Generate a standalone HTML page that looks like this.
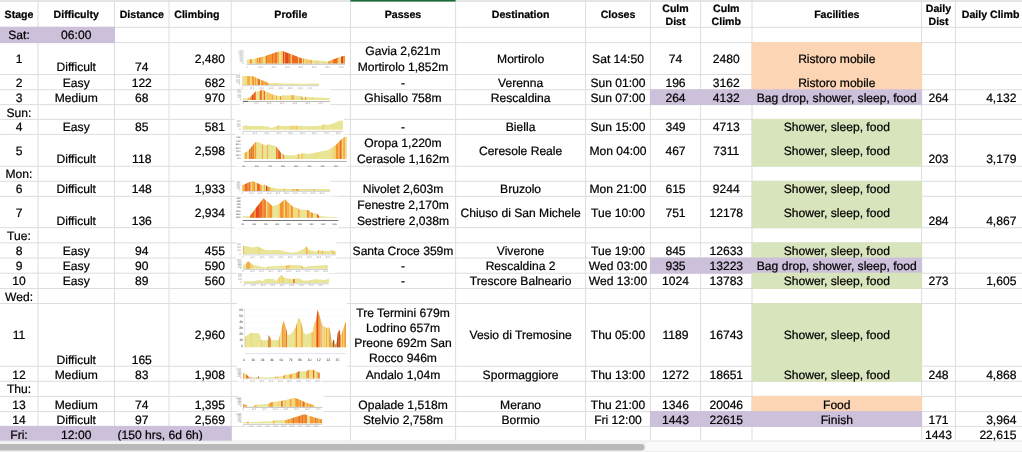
<!DOCTYPE html><html><head><meta charset="utf-8"><title>Stages</title>
<style>html,body{margin:0;padding:0;background:#fff;overflow:hidden}svg{display:block}text{font-family:"Liberation Sans",Arial,Helvetica,sans-serif;fill:#000;stroke:#000;stroke-width:0.22px;text-rendering:geometricPrecision}.h{font-weight:bold;font-size:10.6px}.c{font-size:12.1px}</style></head><body>
<svg width="1022" height="452" viewBox="0 0 1022 452">
<rect width="1022" height="452" fill="#fff"/>
<rect x="0" y="0" width="1022" height="1" fill="#e9e9e9"/>
<g fill="#dddddd">
<rect x="0" y="0.80" width="1022" height="1"/>
<rect x="0" y="26.80" width="1022" height="1"/>
<rect x="0" y="42.10" width="1022" height="1"/>
<rect x="0" y="74.00" width="1022" height="1"/>
<rect x="0" y="89.30" width="1022" height="1"/>
<rect x="0" y="104.10" width="1022" height="1"/>
<rect x="0" y="118.90" width="1022" height="1"/>
<rect x="0" y="133.90" width="1022" height="1"/>
<rect x="0" y="165.70" width="1022" height="1"/>
<rect x="0" y="180.80" width="1022" height="1"/>
<rect x="0" y="195.80" width="1022" height="1"/>
<rect x="0" y="227.20" width="1022" height="1"/>
<rect x="0" y="242.40" width="1022" height="1"/>
<rect x="0" y="257.50" width="1022" height="1"/>
<rect x="0" y="272.70" width="1022" height="1"/>
<rect x="0" y="288.00" width="1022" height="1"/>
<rect x="0" y="303.00" width="1022" height="1"/>
<rect x="0" y="365.70" width="1022" height="1"/>
<rect x="0" y="380.80" width="1022" height="1"/>
<rect x="0" y="395.90" width="1022" height="1"/>
<rect x="0" y="411.10" width="1022" height="1"/>
<rect x="0" y="425.90" width="1022" height="1"/>
<rect x="37.50" y="0" width="1" height="441.00"/>
<rect x="114.00" y="0" width="1" height="441.00"/>
<rect x="168.50" y="0" width="1" height="441.00"/>
<rect x="230.70" y="0" width="1" height="441.00"/>
<rect x="349.90" y="0" width="1" height="441.00"/>
<rect x="455.10" y="0" width="1" height="441.00"/>
<rect x="585.10" y="0" width="1" height="441.00"/>
<rect x="649.90" y="0" width="1" height="441.00"/>
<rect x="700.10" y="0" width="1" height="441.00"/>
<rect x="751.50" y="0" width="1" height="441.00"/>
<rect x="921.10" y="0" width="1" height="441.00"/>
<rect x="954.90" y="0" width="1" height="441.00"/>
</g>
<rect x="0" y="440.5" width="1022" height="1" fill="#efefef"/>
<rect x="0.00" y="26.80" width="115.00" height="16.30" fill="#ccc0da"/>
<rect x="751.50" y="42.10" width="170.60" height="32.90" fill="#fcd5b4"/>
<rect x="751.50" y="74.00" width="170.60" height="16.30" fill="#fcd5b4"/>
<rect x="649.90" y="89.30" width="272.20" height="15.80" fill="#ccc0da"/>
<rect x="751.50" y="118.90" width="170.60" height="16.00" fill="#d8e4bc"/>
<rect x="751.50" y="133.90" width="170.60" height="32.80" fill="#d8e4bc"/>
<rect x="751.50" y="180.80" width="170.60" height="16.00" fill="#d8e4bc"/>
<rect x="751.50" y="195.80" width="170.60" height="32.40" fill="#d8e4bc"/>
<rect x="751.50" y="242.40" width="170.60" height="16.10" fill="#d8e4bc"/>
<rect x="649.90" y="257.50" width="272.20" height="16.20" fill="#ccc0da"/>
<rect x="751.50" y="272.70" width="170.60" height="16.30" fill="#d8e4bc"/>
<rect x="751.50" y="303.00" width="170.60" height="63.70" fill="#d8e4bc"/>
<rect x="751.50" y="365.70" width="170.60" height="16.10" fill="#d8e4bc"/>
<rect x="751.50" y="395.90" width="170.60" height="16.20" fill="#fcd5b4"/>
<rect x="649.90" y="411.10" width="272.20" height="15.80" fill="#ccc0da"/>
<rect x="0.00" y="425.90" width="231.70" height="15.60" fill="#ccc0da"/>
<g id="p1">
<clipPath id="c1"><polygon points="246.79,59.79 249.92,59.41 254.93,58.79 265.57,56.03 275.59,52.52 281.86,51.02 283.73,51.52 293.13,55.03 301.89,58.41 305.15,58.66 309.91,59.91 315.67,60.41 323.19,61.04 327.95,61.79 331.95,60.04 338.22,57.53 343.35,55.91 344.98,55.78 344.98,63.42 246.79,63.42"/></clipPath>
<polygon points="246.79,59.79 249.92,59.41 254.93,58.79 265.57,56.03 275.59,52.52 281.86,51.02 283.73,51.52 293.13,55.03 301.89,58.41 305.15,58.66 309.91,59.91 315.67,60.41 323.19,61.04 327.95,61.79 331.95,60.04 338.22,57.53 343.35,55.91 344.98,55.78 344.98,63.42 246.79,63.42" fill="#e9e597"/>
<g clip-path="url(#c1)">
<rect x="249.79" y="50.02" width="2.13" height="14.40" fill="#f5932f"/>
<rect x="255.18" y="50.02" width="1.57" height="14.40" fill="#f6cb66"/>
<rect x="256.74" y="50.02" width="1.32" height="14.40" fill="#f5932f"/>
<rect x="258.06" y="50.02" width="1.06" height="14.40" fill="#f6cb66"/>
<rect x="259.12" y="50.02" width="0.81" height="14.40" fill="#ee6826"/>
<rect x="259.94" y="50.02" width="2.88" height="14.40" fill="#f5ad4a"/>
<rect x="262.82" y="50.02" width="2.94" height="14.40" fill="#f1dc84"/>
<rect x="265.76" y="50.02" width="1.32" height="14.40" fill="#ee6826"/>
<rect x="267.08" y="50.02" width="4.76" height="14.40" fill="#f5932f"/>
<rect x="271.84" y="50.02" width="1.13" height="14.40" fill="#ee6826"/>
<rect x="272.96" y="50.02" width="2.13" height="14.40" fill="#f5932f"/>
<rect x="275.09" y="50.02" width="1.82" height="14.40" fill="#ee6826"/>
<rect x="276.91" y="50.02" width="2.13" height="14.40" fill="#f5ad4a"/>
<rect x="279.04" y="50.02" width="2.13" height="14.40" fill="#e9e597"/>
<rect x="281.17" y="50.02" width="1.82" height="14.40" fill="#f6cb66"/>
<rect x="282.98" y="50.02" width="1.38" height="14.40" fill="#e5451f"/>
<rect x="284.36" y="50.02" width="0.75" height="14.40" fill="#f5932f"/>
<rect x="285.11" y="50.02" width="2.94" height="14.40" fill="#e5451f"/>
<rect x="288.05" y="50.02" width="2.69" height="14.40" fill="#ee6826"/>
<rect x="290.75" y="50.02" width="1.25" height="14.40" fill="#f6cb66"/>
<rect x="292.00" y="50.02" width="3.01" height="14.40" fill="#ee6826"/>
<rect x="295.01" y="50.02" width="3.01" height="14.40" fill="#ee6826"/>
<rect x="298.01" y="50.02" width="1.00" height="14.40" fill="#f6cb66"/>
<rect x="299.01" y="50.02" width="2.94" height="14.40" fill="#ee6826"/>
<rect x="303.02" y="50.02" width="1.06" height="14.40" fill="#f5932f"/>
<rect x="305.15" y="50.02" width="4.76" height="14.40" fill="#f6cb66"/>
<rect x="309.91" y="50.02" width="2.13" height="14.40" fill="#f5ad4a"/>
<rect x="315.80" y="50.02" width="1.00" height="14.40" fill="#f6cb66"/>
<rect x="317.93" y="50.02" width="0.75" height="14.40" fill="#f6cb66"/>
<rect x="322.94" y="50.02" width="2.88" height="14.40" fill="#f1dc84"/>
<rect x="327.95" y="50.02" width="2.13" height="14.40" fill="#f5932f"/>
<rect x="330.07" y="50.02" width="2.94" height="14.40" fill="#f5ad4a"/>
<rect x="333.02" y="50.02" width="3.95" height="14.40" fill="#ee6826"/>
<rect x="336.96" y="50.02" width="1.13" height="14.40" fill="#f5932f"/>
<rect x="338.09" y="50.02" width="1.57" height="14.40" fill="#f6cb66"/>
<rect x="340.97" y="50.02" width="2.38" height="14.40" fill="#e5451f"/>
<rect x="343.35" y="50.02" width="1.63" height="14.40" fill="#f5932f"/>
</g>
<rect x="246.79" y="63.77" width="98.19" height="0.80" fill="#aab0b8"/>
<g font-size="2.4" text-anchor="middle" style="fill:#9c9c9c;stroke:none">
<text x="246.79" y="67.92" style="fill:#9c9c9c;stroke:none">0</text>
<text x="260.30" y="67.92" style="fill:#9c9c9c;stroke:none">10.0</text>
<text x="273.80" y="67.92" style="fill:#9c9c9c;stroke:none">20.0</text>
<text x="287.31" y="67.92" style="fill:#9c9c9c;stroke:none">30.0</text>
<text x="300.82" y="67.92" style="fill:#9c9c9c;stroke:none">40.0</text>
<text x="314.33" y="67.92" style="fill:#9c9c9c;stroke:none">50.0</text>
<text x="327.84" y="67.92" style="fill:#9c9c9c;stroke:none">60.0</text>
<text x="341.35" y="67.92" style="fill:#9c9c9c;stroke:none">70.0</text>
</g>
<g font-size="2.4" text-anchor="end" style="fill:#9c9c9c;stroke:none">
<text x="243.47" y="64.03" style="fill:#9c9c9c;stroke:none">0</text>
<text x="243.47" y="61.95" style="fill:#9c9c9c;stroke:none">200</text>
<text x="243.47" y="59.86" style="fill:#9c9c9c;stroke:none">400</text>
<text x="243.47" y="57.77" style="fill:#9c9c9c;stroke:none">600</text>
<text x="243.47" y="55.68" style="fill:#9c9c9c;stroke:none">800</text>
<text x="243.47" y="53.60" style="fill:#9c9c9c;stroke:none">1000</text>
<text x="243.47" y="51.51" style="fill:#9c9c9c;stroke:none">1200</text>
</g>
</g>
<g id="p2">
<rect x="236.14" y="73.25" width="83.29" height="15.41" fill="#fff"/>
<clipPath id="c2"><polygon points="242.12,76.01 251.92,76.01 254.55,77.01 259.90,79.44 265.20,81.56 268.39,83.15 275.59,83.15 284.36,83.52 293.13,83.40 303.15,83.65 311.91,83.52 319.05,83.52 319.05,84.96 242.12,84.96"/></clipPath>
<polygon points="242.12,76.01 251.92,76.01 254.55,77.01 259.90,79.44 265.20,81.56 268.39,83.15 275.59,83.15 284.36,83.52 293.13,83.40 303.15,83.65 311.91,83.52 319.05,83.52 319.05,84.96 242.12,84.96" fill="#e9e597"/>
<g clip-path="url(#c2)">
<rect x="244.78" y="75.01" width="2.38" height="10.95" fill="#f1dc84"/>
<rect x="247.16" y="75.01" width="2.88" height="10.95" fill="#f5ad4a"/>
<rect x="250.04" y="75.01" width="2.13" height="10.95" fill="#f1dc84"/>
<rect x="252.17" y="75.01" width="1.88" height="10.95" fill="#f5932f"/>
<rect x="254.05" y="75.01" width="1.06" height="10.95" fill="#f6cb66"/>
<rect x="255.12" y="75.01" width="1.06" height="10.95" fill="#f5932f"/>
<rect x="256.18" y="75.01" width="1.59" height="10.95" fill="#f6cb66"/>
<rect x="257.77" y="75.01" width="2.13" height="10.95" fill="#ee6826"/>
<rect x="261.23" y="75.01" width="2.39" height="10.95" fill="#f5932f"/>
<rect x="263.62" y="75.01" width="2.12" height="10.95" fill="#f5ad4a"/>
<rect x="265.74" y="75.01" width="2.66" height="10.95" fill="#f5932f"/>
<rect x="273.09" y="75.01" width="4.01" height="10.95" fill="#f1dc84"/>
<rect x="291.87" y="75.01" width="1.25" height="10.95" fill="#f1dc84"/>
</g>
<rect x="242.03" y="85.43" width="77.03" height="0.70" fill="#bdbdbd"/>
<g font-size="2.4" text-anchor="middle" style="fill:#9c9c9c;stroke:none">
<text x="242.03" y="88.64" style="fill:#9c9c9c;stroke:none">0</text>
<text x="251.74" y="88.64" style="fill:#9c9c9c;stroke:none">10.0</text>
<text x="261.46" y="88.64" style="fill:#9c9c9c;stroke:none">20.0</text>
<text x="271.17" y="88.64" style="fill:#9c9c9c;stroke:none">30.0</text>
<text x="280.89" y="88.64" style="fill:#9c9c9c;stroke:none">40.0</text>
<text x="290.60" y="88.64" style="fill:#9c9c9c;stroke:none">50.0</text>
<text x="300.32" y="88.64" style="fill:#9c9c9c;stroke:none">60.0</text>
<text x="310.04" y="88.64" style="fill:#9c9c9c;stroke:none">70.0</text>
</g>
<g font-size="2.4" text-anchor="end" style="fill:#9c9c9c;stroke:none">
<text x="240.09" y="85.14" style="fill:#9c9c9c;stroke:none">0</text>
<text x="240.09" y="82.85" style="fill:#9c9c9c;stroke:none">200</text>
<text x="240.09" y="80.57" style="fill:#9c9c9c;stroke:none">400</text>
<text x="240.09" y="78.28" style="fill:#9c9c9c;stroke:none">600</text>
<text x="240.09" y="76.00" style="fill:#9c9c9c;stroke:none">800</text>
</g>
</g>
<g id="p3">
<rect x="239.27" y="89.41" width="91.43" height="15.41" fill="#fff"/>
<clipPath id="c3"><polygon points="243.03,98.30 247.79,98.30 250.22,97.15 255.53,91.58 259.24,91.21 262.43,89.61 264.55,91.04 271.96,94.23 275.17,95.55 280.48,95.98 283.11,95.55 289.31,95.46 293.29,95.13 301.52,96.36 303.11,97.93 305.24,96.89 318.51,97.42 329.95,98.30 329.95,100.05 243.03,100.05"/></clipPath>
<polygon points="243.03,98.30 247.79,98.30 250.22,97.15 255.53,91.58 259.24,91.21 262.43,89.61 264.55,91.04 271.96,94.23 275.17,95.55 280.48,95.98 283.11,95.55 289.31,95.46 293.29,95.13 301.52,96.36 303.11,97.93 305.24,96.89 318.51,97.42 329.95,98.30 329.95,100.05 243.03,100.05" fill="#e9e597"/>
<g clip-path="url(#c3)">
<rect x="247.83" y="88.61" width="1.33" height="12.45" fill="#f5ad4a"/>
<rect x="249.94" y="88.61" width="1.85" height="12.45" fill="#f5932f"/>
<rect x="251.80" y="88.61" width="1.34" height="12.45" fill="#e5451f"/>
<rect x="253.14" y="88.61" width="2.66" height="12.45" fill="#ee6826"/>
<rect x="259.77" y="88.61" width="2.12" height="12.45" fill="#ee6826"/>
<rect x="261.89" y="88.61" width="1.33" height="12.45" fill="#f1dc84"/>
<rect x="263.22" y="88.61" width="0.80" height="12.45" fill="#f5ad4a"/>
<rect x="264.02" y="88.61" width="1.05" height="12.45" fill="#ee6826"/>
<rect x="265.07" y="88.61" width="1.60" height="12.45" fill="#f1dc84"/>
<rect x="266.68" y="88.61" width="5.31" height="12.45" fill="#f6cb66"/>
<rect x="271.99" y="88.61" width="1.59" height="12.45" fill="#f5ad4a"/>
<rect x="273.58" y="88.61" width="2.39" height="12.45" fill="#f1dc84"/>
<rect x="275.97" y="88.61" width="1.06" height="12.45" fill="#f5ad4a"/>
<rect x="279.95" y="88.61" width="1.06" height="12.45" fill="#f5932f"/>
<rect x="281.02" y="88.61" width="4.05" height="12.45" fill="#f1dc84"/>
<rect x="287.18" y="88.61" width="1.57" height="12.45" fill="#f1dc84"/>
<rect x="290.37" y="88.61" width="1.59" height="12.45" fill="#f6cb66"/>
<rect x="291.96" y="88.61" width="1.85" height="12.45" fill="#f5ad4a"/>
<rect x="300.99" y="88.61" width="1.85" height="12.45" fill="#f5ad4a"/>
<rect x="304.98" y="88.61" width="1.05" height="12.45" fill="#f5932f"/>
<rect x="312.14" y="88.61" width="1.33" height="12.45" fill="#f1dc84"/>
</g>
<rect x="243.03" y="101.03" width="86.92" height="0.80" fill="#a9a9a9"/>
<rect x="243.03" y="100.88" width="5.01" height="1.1" fill="#666"/>
<g font-size="2.4" text-anchor="middle" style="fill:#9c9c9c;stroke:none">
<text x="243.28" y="104.30" style="fill:#9c9c9c;stroke:none">0</text>
<text x="256.18" y="104.30" style="fill:#9c9c9c;stroke:none">10.0</text>
<text x="269.08" y="104.30" style="fill:#9c9c9c;stroke:none">20.0</text>
<text x="281.98" y="104.30" style="fill:#9c9c9c;stroke:none">30.0</text>
<text x="294.88" y="104.30" style="fill:#9c9c9c;stroke:none">40.0</text>
<text x="307.78" y="104.30" style="fill:#9c9c9c;stroke:none">50.0</text>
<text x="320.68" y="104.30" style="fill:#9c9c9c;stroke:none">60.0</text>
</g>
<g font-size="2.4" text-anchor="end" style="fill:#9c9c9c;stroke:none">
<text x="241.34" y="100.17" style="fill:#9c9c9c;stroke:none">0</text>
<text x="241.34" y="97.88" style="fill:#9c9c9c;stroke:none">200</text>
<text x="241.34" y="95.60" style="fill:#9c9c9c;stroke:none">400</text>
<text x="241.34" y="93.31" style="fill:#9c9c9c;stroke:none">600</text>
<text x="241.34" y="91.02" style="fill:#9c9c9c;stroke:none">800</text>
</g>
</g>
<g id="p4">
<rect x="234.89" y="118.50" width="108.96" height="15.78" fill="#fff"/>
<clipPath id="c4"><polygon points="242.78,126.02 244.91,125.39 253.05,126.02 260.56,126.02 269.33,126.65 271.21,127.90 273.71,127.27 278.10,125.39 284.36,126.02 296.88,125.77 309.41,126.27 321.93,125.39 323.81,124.14 328.20,125.02 334.46,122.89 340.09,120.38 342.97,121.01 342.97,129.78 242.78,129.78"/></clipPath>
<polygon points="242.78,126.02 244.91,125.39 253.05,126.02 260.56,126.02 269.33,126.65 271.21,127.90 273.71,127.27 278.10,125.39 284.36,126.02 296.88,125.77 309.41,126.27 321.93,125.39 323.81,124.14 328.20,125.02 334.46,122.89 340.09,120.38 342.97,121.01 342.97,129.78 242.78,129.78" fill="#e9e597"/>
<g clip-path="url(#c4)">
<rect x="277.47" y="119.38" width="1.25" height="11.39" fill="#f6cb66"/>
<rect x="290.62" y="119.38" width="1.25" height="11.39" fill="#f6cb66"/>
<rect x="293.13" y="119.38" width="1.25" height="11.39" fill="#f6cb66"/>
<rect x="295.63" y="119.38" width="1.88" height="11.39" fill="#f6cb66"/>
<rect x="322.56" y="119.38" width="1.25" height="11.39" fill="#f6cb66"/>
</g>
<rect x="242.78" y="130.93" width="100.20" height="0.70" fill="#bdbdbd"/>
<g font-size="2.4" text-anchor="middle" style="fill:#9c9c9c;stroke:none">
<text x="242.78" y="134.40" style="fill:#9c9c9c;stroke:none">0</text>
<text x="254.71" y="134.40" style="fill:#9c9c9c;stroke:none">10.0</text>
<text x="266.64" y="134.40" style="fill:#9c9c9c;stroke:none">20.0</text>
<text x="278.57" y="134.40" style="fill:#9c9c9c;stroke:none">30.0</text>
<text x="290.50" y="134.40" style="fill:#9c9c9c;stroke:none">40.0</text>
<text x="302.43" y="134.40" style="fill:#9c9c9c;stroke:none">50.0</text>
<text x="314.36" y="134.40" style="fill:#9c9c9c;stroke:none">60.0</text>
<text x="326.29" y="134.40" style="fill:#9c9c9c;stroke:none">70.0</text>
<text x="338.22" y="134.40" style="fill:#9c9c9c;stroke:none">80.0</text>
</g>
<g font-size="2.4" text-anchor="end" style="fill:#9c9c9c;stroke:none">
<text x="240.71" y="130.01" style="fill:#9c9c9c;stroke:none">0</text>
<text x="240.71" y="127.30" style="fill:#9c9c9c;stroke:none">200</text>
<text x="240.71" y="124.59" style="fill:#9c9c9c;stroke:none">400</text>
<text x="240.71" y="121.87" style="fill:#9c9c9c;stroke:none">600</text>
</g>
</g>
<g id="p5">
<rect x="234.89" y="134.54" width="112.72" height="31.81" fill="#fff"/>
<clipPath id="c5"><polygon points="243.84,153.24 247.96,150.92 248.95,149.93 255.59,142.09 259.90,142.49 262.89,144.62 266.54,145.14 268.53,144.28 274.50,145.81 276.16,146.74 279.15,150.25 281.14,153.24 283.46,154.24 284.46,155.36 294.00,155.36 296.63,155.23 298.30,153.90 300.64,154.24 302.27,153.24 307.28,153.77 313.92,152.91 320.53,151.57 327.17,150.25 331.82,147.94 336.46,144.62 340.44,140.30 344.41,136.98 346.73,136.79 346.73,158.88 243.84,158.88"/></clipPath>
<polygon points="243.84,153.24 247.96,150.92 248.95,149.93 255.59,142.09 259.90,142.49 262.89,144.62 266.54,145.14 268.53,144.28 274.50,145.81 276.16,146.74 279.15,150.25 281.14,153.24 283.46,154.24 284.46,155.36 294.00,155.36 296.63,155.23 298.30,153.90 300.64,154.24 302.27,153.24 307.28,153.77 313.92,152.91 320.53,151.57 327.17,150.25 331.82,147.94 336.46,144.62 340.44,140.30 344.41,136.98 346.73,136.79 346.73,158.88 243.84,158.88" fill="#e9e597"/>
<g clip-path="url(#c5)">
<rect x="243.84" y="135.79" width="1.13" height="24.09" fill="#f1dc84"/>
<rect x="244.97" y="135.79" width="1.99" height="24.09" fill="#f5ad4a"/>
<rect x="248.95" y="135.79" width="1.00" height="24.09" fill="#ee6826"/>
<rect x="249.96" y="135.79" width="0.99" height="24.09" fill="#f5932f"/>
<rect x="250.94" y="135.79" width="1.00" height="24.09" fill="#c8783a"/>
<rect x="251.95" y="135.79" width="0.99" height="24.09" fill="#f5932f"/>
<rect x="252.94" y="135.79" width="0.99" height="24.09" fill="#ee6826"/>
<rect x="253.93" y="135.79" width="1.00" height="24.09" fill="#f6cb66"/>
<rect x="254.93" y="135.79" width="1.00" height="24.09" fill="#f5932f"/>
<rect x="255.93" y="135.79" width="1.65" height="24.09" fill="#f1dc84"/>
<rect x="261.89" y="135.79" width="1.20" height="24.09" fill="#f5ad4a"/>
<rect x="266.88" y="135.79" width="0.99" height="24.09" fill="#f5ad4a"/>
<rect x="276.16" y="135.79" width="1.00" height="24.09" fill="#ee6826"/>
<rect x="277.16" y="135.79" width="0.99" height="24.09" fill="#f5932f"/>
<rect x="278.15" y="135.79" width="1.00" height="24.09" fill="#ee6826"/>
<rect x="279.15" y="135.79" width="1.65" height="24.09" fill="#e5451f"/>
<rect x="282.79" y="135.79" width="1.33" height="24.09" fill="#f5932f"/>
<rect x="296.63" y="135.79" width="1.34" height="24.09" fill="#f1dc84"/>
<rect x="297.97" y="135.79" width="0.99" height="24.09" fill="#f5ad4a"/>
<rect x="300.95" y="135.79" width="1.99" height="24.09" fill="#f6cb66"/>
<rect x="313.89" y="135.79" width="1.00" height="24.09" fill="#f1dc84"/>
<rect x="316.22" y="135.79" width="0.66" height="24.09" fill="#f1dc84"/>
<rect x="317.88" y="135.79" width="1.00" height="24.09" fill="#f1dc84"/>
<rect x="326.37" y="135.79" width="0.45" height="24.09" fill="#f1dc84"/>
<rect x="331.15" y="135.79" width="2.66" height="24.09" fill="#f1dc84"/>
<rect x="333.81" y="135.79" width="0.99" height="24.09" fill="#f6cb66"/>
<rect x="334.80" y="135.79" width="1.00" height="24.09" fill="#f1dc84"/>
<rect x="335.80" y="135.79" width="2.32" height="24.09" fill="#f5932f"/>
<rect x="338.12" y="135.79" width="1.67" height="24.09" fill="#f5ad4a"/>
<rect x="339.78" y="135.79" width="1.99" height="24.09" fill="#ee6826"/>
<rect x="341.77" y="135.79" width="1.33" height="24.09" fill="#f1dc84"/>
<rect x="343.10" y="135.79" width="1.98" height="24.09" fill="#f5ad4a"/>
<rect x="345.08" y="135.79" width="1.65" height="24.09" fill="#f1dc84"/>
</g>
<rect x="243.66" y="160.94" width="103.08" height="0.80" fill="#9a9ea3"/>
<g font-size="2.5" text-anchor="middle" style="fill:#555;stroke:none">
<text x="243.66" y="166.75" style="fill:#555;stroke:none">0k</text>
<text x="256.81" y="166.75" style="fill:#555;stroke:none">20k</text>
<text x="269.96" y="166.75" style="fill:#555;stroke:none">40k</text>
<text x="283.11" y="166.75" style="fill:#555;stroke:none">60k</text>
<text x="296.26" y="166.75" style="fill:#555;stroke:none">80k</text>
<text x="309.41" y="166.75" style="fill:#555;stroke:none">90k</text>
<text x="322.56" y="166.75" style="fill:#555;stroke:none">100</text>
<text x="335.71" y="166.75" style="fill:#555;stroke:none">118</text>
</g>
<g font-size="2.5" text-anchor="end" style="fill:#555;stroke:none">
<text x="240.52" y="159.23" style="fill:#555;stroke:none">0m</text>
<text x="240.52" y="155.73" style="fill:#555;stroke:none">20m</text>
<text x="240.52" y="152.22" style="fill:#555;stroke:none">40m</text>
<text x="240.52" y="148.71" style="fill:#555;stroke:none">60m</text>
<text x="240.52" y="145.21" style="fill:#555;stroke:none">80m</text>
<text x="240.52" y="141.70" style="fill:#555;stroke:none">100</text>
<text x="240.52" y="138.19" style="fill:#555;stroke:none">120</text>
</g>
</g>
<g id="p6">
<rect x="234.89" y="180.50" width="95.81" height="15.78" fill="#fff"/>
<clipPath id="c6"><polygon points="242.23,185.14 244.87,184.34 248.57,182.50 252.52,181.28 256.49,182.76 260.19,184.60 262.30,185.14 264.95,184.86 267.58,186.45 270.76,187.52 274.98,188.14 280.26,188.83 292.00,189.02 330.07,189.02 330.07,190.94 242.23,190.94"/></clipPath>
<polygon points="242.23,185.14 244.87,184.34 248.57,182.50 252.52,181.28 256.49,182.76 260.19,184.60 262.30,185.14 264.95,184.86 267.58,186.45 270.76,187.52 274.98,188.14 280.26,188.83 292.00,189.02 330.07,189.02 330.07,190.94 242.23,190.94" fill="#e9e597"/>
<g clip-path="url(#c6)">
<rect x="242.23" y="180.28" width="2.64" height="11.66" fill="#f5ad4a"/>
<rect x="244.87" y="180.28" width="2.91" height="11.66" fill="#ee6826"/>
<rect x="247.78" y="180.28" width="1.05" height="11.66" fill="#f5932f"/>
<rect x="248.83" y="180.28" width="1.84" height="11.66" fill="#ee6826"/>
<rect x="250.67" y="180.28" width="1.33" height="11.66" fill="#f1dc84"/>
<rect x="252.00" y="180.28" width="1.85" height="11.66" fill="#f5ad4a"/>
<rect x="253.85" y="180.28" width="1.32" height="11.66" fill="#f5932f"/>
<rect x="255.17" y="180.28" width="1.85" height="11.66" fill="#f1dc84"/>
<rect x="257.02" y="180.28" width="2.91" height="11.66" fill="#ee6826"/>
<rect x="259.92" y="180.28" width="1.84" height="11.66" fill="#f5ad4a"/>
<rect x="263.88" y="180.28" width="1.06" height="11.66" fill="#f5ad4a"/>
<rect x="266.00" y="180.28" width="1.32" height="11.66" fill="#a3501e"/>
<rect x="267.31" y="180.28" width="1.59" height="11.66" fill="#f5932f"/>
<rect x="268.90" y="180.28" width="1.32" height="11.66" fill="#f5ad4a"/>
<rect x="270.22" y="180.28" width="3.71" height="11.66" fill="#f1dc84"/>
<rect x="283.85" y="180.28" width="1.05" height="11.66" fill="#f5ad4a"/>
<rect x="292.83" y="180.28" width="1.05" height="11.66" fill="#f5932f"/>
<rect x="295.73" y="180.28" width="3.17" height="11.66" fill="#f5ad4a"/>
<rect x="305.24" y="180.28" width="1.58" height="11.66" fill="#f1dc84"/>
<rect x="313.69" y="180.28" width="1.05" height="11.66" fill="#f5ad4a"/>
</g>
<rect x="242.40" y="191.28" width="87.67" height="0.70" fill="#c5cad3"/>
<g font-size="2.4" text-anchor="middle" style="fill:#9c9c9c;stroke:none">
<text x="242.40" y="194.39" style="fill:#9c9c9c;stroke:none">0</text>
<text x="251.24" y="194.39" style="fill:#9c9c9c;stroke:none">10.0</text>
<text x="260.08" y="194.39" style="fill:#9c9c9c;stroke:none">20.0</text>
<text x="268.91" y="194.39" style="fill:#9c9c9c;stroke:none">30.0</text>
<text x="277.75" y="194.39" style="fill:#9c9c9c;stroke:none">40.0</text>
<text x="286.59" y="194.39" style="fill:#9c9c9c;stroke:none">50.0</text>
<text x="295.42" y="194.39" style="fill:#9c9c9c;stroke:none">60.0</text>
<text x="304.26" y="194.39" style="fill:#9c9c9c;stroke:none">70.0</text>
<text x="313.10" y="194.39" style="fill:#9c9c9c;stroke:none">80.0</text>
<text x="321.93" y="194.39" style="fill:#9c9c9c;stroke:none">90.0</text>
</g>
<g font-size="2.4" text-anchor="end" style="fill:#9c9c9c;stroke:none">
<text x="240.46" y="191.39" style="fill:#9c9c9c;stroke:none">0</text>
<text x="240.46" y="189.20" style="fill:#9c9c9c;stroke:none">200</text>
<text x="240.46" y="187.00" style="fill:#9c9c9c;stroke:none">400</text>
<text x="240.46" y="184.81" style="fill:#9c9c9c;stroke:none">600</text>
<text x="240.46" y="182.62" style="fill:#9c9c9c;stroke:none">800</text>
</g>
</g>
<g id="p7">
<rect x="234.26" y="196.66" width="104.58" height="31.19" fill="#fff"/>
<clipPath id="c7"><polygon points="242.65,216.58 243.98,216.04 249.62,216.24 263.56,198.13 266.20,200.97 267.87,201.63 272.19,206.08 277.82,204.75 279.81,203.83 284.79,199.18 286.45,200.97 291.31,205.29 292.96,206.93 297.95,208.27 299.26,209.60 306.90,210.06 308.56,210.26 310.54,212.25 312.54,213.12 316.86,213.38 319.18,215.90 328.45,216.70 338.09,217.23 338.09,217.77 242.65,217.77"/></clipPath>
<polygon points="242.65,216.58 243.98,216.04 249.62,216.24 263.56,198.13 266.20,200.97 267.87,201.63 272.19,206.08 277.82,204.75 279.81,203.83 284.79,199.18 286.45,200.97 291.31,205.29 292.96,206.93 297.95,208.27 299.26,209.60 306.90,210.06 308.56,210.26 310.54,212.25 312.54,213.12 316.86,213.38 319.18,215.90 328.45,216.70 338.09,217.23 338.09,217.77 242.65,217.77" fill="#e9e597"/>
<g clip-path="url(#c7)">
<rect x="249.96" y="197.13" width="4.65" height="21.64" fill="#ee6826"/>
<rect x="254.60" y="197.13" width="1.33" height="21.64" fill="#f5932f"/>
<rect x="255.93" y="197.13" width="2.98" height="21.64" fill="#e5451f"/>
<rect x="258.91" y="197.13" width="3.64" height="21.64" fill="#ee6826"/>
<rect x="262.55" y="197.13" width="1.67" height="21.64" fill="#f5932f"/>
<rect x="264.22" y="197.13" width="1.65" height="21.64" fill="#ee6826"/>
<rect x="265.87" y="197.13" width="1.33" height="21.64" fill="#f1dc84"/>
<rect x="267.20" y="197.13" width="1.99" height="21.64" fill="#f5ad4a"/>
<rect x="269.19" y="197.13" width="2.99" height="21.64" fill="#f5932f"/>
<rect x="277.82" y="197.13" width="1.99" height="21.64" fill="#f1dc84"/>
<rect x="279.81" y="197.13" width="3.98" height="21.64" fill="#f5932f"/>
<rect x="283.80" y="197.13" width="1.33" height="21.64" fill="#f1dc84"/>
<rect x="285.12" y="197.13" width="2.20" height="21.64" fill="#f5932f"/>
<rect x="287.33" y="197.13" width="1.99" height="21.64" fill="#f5ad4a"/>
<rect x="289.32" y="197.13" width="1.65" height="21.64" fill="#f6cb66"/>
<rect x="290.97" y="197.13" width="1.99" height="21.64" fill="#f5932f"/>
<rect x="292.96" y="197.13" width="4.98" height="21.64" fill="#f1dc84"/>
<rect x="297.95" y="197.13" width="1.65" height="21.64" fill="#f5ad4a"/>
<rect x="306.90" y="197.13" width="1.99" height="21.64" fill="#f5932f"/>
<rect x="308.90" y="197.13" width="0.99" height="21.64" fill="#f5ad4a"/>
<rect x="309.88" y="197.13" width="1.00" height="21.64" fill="#f1dc84"/>
<rect x="310.89" y="197.13" width="1.99" height="21.64" fill="#f5932f"/>
<rect x="316.86" y="197.13" width="2.32" height="21.64" fill="#ee6826"/>
</g>
<rect x="242.78" y="220.02" width="95.44" height="0.80" fill="#555"/>
<g font-size="2.5" text-anchor="middle" style="fill:#444;stroke:none">
<text x="242.78" y="225.49" style="fill:#444;stroke:none">0k</text>
<text x="254.24" y="225.49" style="fill:#444;stroke:none">20k</text>
<text x="265.70" y="225.49" style="fill:#444;stroke:none">40k</text>
<text x="277.16" y="225.49" style="fill:#444;stroke:none">60k</text>
<text x="288.62" y="225.49" style="fill:#444;stroke:none">80k</text>
<text x="300.08" y="225.49" style="fill:#444;stroke:none">90k</text>
<text x="311.54" y="225.49" style="fill:#444;stroke:none">100</text>
<text x="323.00" y="225.49" style="fill:#444;stroke:none">120</text>
<text x="334.46" y="225.49" style="fill:#444;stroke:none">136</text>
</g>
<g font-size="2.5" text-anchor="end" style="fill:#444;stroke:none">
<text x="240.77" y="217.98" style="fill:#444;stroke:none">30m</text>
<text x="240.77" y="214.80" style="fill:#444;stroke:none">60m</text>
<text x="240.77" y="211.63" style="fill:#444;stroke:none">90m</text>
<text x="240.77" y="208.46" style="fill:#444;stroke:none">120</text>
<text x="240.77" y="205.28" style="fill:#444;stroke:none">150</text>
<text x="240.77" y="202.11" style="fill:#444;stroke:none">180</text>
<text x="240.77" y="198.94" style="fill:#444;stroke:none">210</text>
</g>
</g>
<g id="p8">
<rect x="236.14" y="241.76" width="100.20" height="16.28" fill="#fff"/>
<clipPath id="c8"><polygon points="243.03,245.77 253.05,247.39 257.43,246.52 265.57,249.90 271.84,250.15 278.10,249.65 290.62,252.78 296.88,252.03 303.15,249.27 306.65,246.52 308.78,249.90 315.67,251.53 318.18,250.52 319.43,249.90 321.31,251.15 323.19,250.52 328.20,251.15 331.95,249.90 333.83,251.15 335.96,250.90 335.96,254.03 243.03,254.03"/></clipPath>
<polygon points="243.03,245.77 253.05,247.39 257.43,246.52 265.57,249.90 271.84,250.15 278.10,249.65 290.62,252.78 296.88,252.03 303.15,249.27 306.65,246.52 308.78,249.90 315.67,251.53 318.18,250.52 319.43,249.90 321.31,251.15 323.19,250.52 328.20,251.15 331.95,249.90 333.83,251.15 335.96,250.90 335.96,254.03 243.03,254.03" fill="#e9e597"/>
<g clip-path="url(#c8)">
<rect x="243.03" y="244.77" width="0.88" height="10.27" fill="#f5ad4a"/>
<rect x="258.68" y="244.77" width="0.88" height="10.27" fill="#f6cb66"/>
<rect x="305.90" y="244.77" width="1.25" height="10.27" fill="#f5ad4a"/>
<rect x="307.15" y="244.77" width="1.00" height="10.27" fill="#f6cb66"/>
<rect x="308.78" y="244.77" width="0.88" height="10.27" fill="#f6cb66"/>
<rect x="317.93" y="244.77" width="1.00" height="10.27" fill="#f5ad4a"/>
<rect x="320.43" y="244.77" width="0.88" height="10.27" fill="#f6cb66"/>
<rect x="321.93" y="244.77" width="1.00" height="10.27" fill="#f5ad4a"/>
<rect x="332.58" y="244.77" width="1.25" height="10.27" fill="#f5ad4a"/>
</g>
<rect x="243.03" y="254.56" width="92.93" height="0.70" fill="#bdbdbd"/>
<g font-size="2.4" text-anchor="middle" style="fill:#9c9c9c;stroke:none">
<text x="243.03" y="258.28" style="fill:#9c9c9c;stroke:none">0</text>
<text x="252.49" y="258.28" style="fill:#9c9c9c;stroke:none">10.0</text>
<text x="261.96" y="258.28" style="fill:#9c9c9c;stroke:none">20.0</text>
<text x="271.42" y="258.28" style="fill:#9c9c9c;stroke:none">30.0</text>
<text x="280.88" y="258.28" style="fill:#9c9c9c;stroke:none">40.0</text>
<text x="290.34" y="258.28" style="fill:#9c9c9c;stroke:none">50.0</text>
<text x="299.81" y="258.28" style="fill:#9c9c9c;stroke:none">60.0</text>
<text x="309.27" y="258.28" style="fill:#9c9c9c;stroke:none">70.0</text>
<text x="318.73" y="258.28" style="fill:#9c9c9c;stroke:none">80.0</text>
<text x="328.20" y="258.28" style="fill:#9c9c9c;stroke:none">90.0</text>
</g>
<g font-size="2.4" text-anchor="end" style="fill:#9c9c9c;stroke:none">
<text x="240.96" y="254.52" style="fill:#9c9c9c;stroke:none">0</text>
<text x="240.96" y="251.39" style="fill:#9c9c9c;stroke:none">200</text>
<text x="240.96" y="248.26" style="fill:#9c9c9c;stroke:none">400</text>
<text x="240.96" y="245.13" style="fill:#9c9c9c;stroke:none">600</text>
</g>
</g>
<g id="p9">
<rect x="236.77" y="258.29" width="99.57" height="14.78" fill="#fff"/>
<clipPath id="c9"><polygon points="243.03,264.93 246.16,263.68 248.04,261.17 250.54,263.05 253.05,264.93 265.57,267.43 268.08,266.56 285.61,265.80 289.37,264.93 300.64,265.30 304.40,267.81 308.16,266.18 327.82,264.93 327.82,268.68 243.03,268.68"/></clipPath>
<polygon points="243.03,264.93 246.16,263.68 248.04,261.17 250.54,263.05 253.05,264.93 265.57,267.43 268.08,266.56 285.61,265.80 289.37,264.93 300.64,265.30 304.40,267.81 308.16,266.18 327.82,264.93 327.82,268.68 243.03,268.68" fill="#e9e597"/>
<g clip-path="url(#c9)">
<rect x="246.16" y="260.17" width="1.25" height="9.51" fill="#f5ad4a"/>
<rect x="247.41" y="260.17" width="1.25" height="9.51" fill="#f5932f"/>
<rect x="248.67" y="260.17" width="1.88" height="9.51" fill="#f5ad4a"/>
<rect x="251.80" y="260.17" width="1.25" height="9.51" fill="#f6cb66"/>
<rect x="267.83" y="260.17" width="0.88" height="9.51" fill="#f6cb66"/>
<rect x="285.86" y="260.17" width="1.00" height="9.51" fill="#f5ad4a"/>
<rect x="286.86" y="260.17" width="1.25" height="9.51" fill="#f6cb66"/>
<rect x="288.12" y="260.17" width="1.88" height="9.51" fill="#f6cb66"/>
<rect x="301.64" y="260.17" width="1.25" height="9.51" fill="#f5ad4a"/>
<rect x="303.77" y="260.17" width="0.88" height="9.51" fill="#f6cb66"/>
</g>
<rect x="243.03" y="268.96" width="84.79" height="0.70" fill="#bdbdbd"/>
<g font-size="2.4" text-anchor="middle" style="fill:#9c9c9c;stroke:none">
<text x="243.03" y="272.30" style="fill:#9c9c9c;stroke:none">0</text>
<text x="252.21" y="272.30" style="fill:#9c9c9c;stroke:none">10.0</text>
<text x="261.40" y="272.30" style="fill:#9c9c9c;stroke:none">20.0</text>
<text x="270.58" y="272.30" style="fill:#9c9c9c;stroke:none">30.0</text>
<text x="279.77" y="272.30" style="fill:#9c9c9c;stroke:none">40.0</text>
<text x="288.95" y="272.30" style="fill:#9c9c9c;stroke:none">50.0</text>
<text x="298.14" y="272.30" style="fill:#9c9c9c;stroke:none">60.0</text>
<text x="307.32" y="272.30" style="fill:#9c9c9c;stroke:none">70.0</text>
<text x="316.51" y="272.30" style="fill:#9c9c9c;stroke:none">80.0</text>
<text x="325.69" y="272.30" style="fill:#9c9c9c;stroke:none">90.0</text>
</g>
<g font-size="2.4" text-anchor="end" style="fill:#9c9c9c;stroke:none">
<text x="241.71" y="269.17" style="fill:#9c9c9c;stroke:none">0</text>
<text x="241.71" y="267.62" style="fill:#9c9c9c;stroke:none">200</text>
<text x="241.71" y="266.07" style="fill:#9c9c9c;stroke:none">400</text>
<text x="241.71" y="264.51" style="fill:#9c9c9c;stroke:none">600</text>
<text x="241.71" y="262.96" style="fill:#9c9c9c;stroke:none">800</text>
<text x="241.71" y="261.41" style="fill:#9c9c9c;stroke:none">1000</text>
</g>
</g>
<g id="p10">
<rect x="236.77" y="273.32" width="92.68" height="14.15" fill="#fff"/>
<clipPath id="c10"><polygon points="243.91,281.21 253.05,281.21 259.31,279.96 263.07,281.21 265.57,278.70 274.34,279.33 275.59,281.21 278.10,278.70 281.48,274.70 284.36,278.08 293.13,279.33 298.14,278.08 303.15,280.58 308.16,280.58 315.67,279.33 325.69,279.96 328.82,278.33 328.82,283.09 243.91,283.09"/></clipPath>
<polygon points="243.91,281.21 253.05,281.21 259.31,279.96 263.07,281.21 265.57,278.70 274.34,279.33 275.59,281.21 278.10,278.70 281.48,274.70 284.36,278.08 293.13,279.33 298.14,278.08 303.15,280.58 308.16,280.58 315.67,279.33 325.69,279.96 328.82,278.33 328.82,283.09 243.91,283.09" fill="#e9e597"/>
<g clip-path="url(#c10)">
<rect x="279.10" y="273.70" width="0.88" height="10.39" fill="#f6cb66"/>
<rect x="281.23" y="273.70" width="0.88" height="10.39" fill="#f6cb66"/>
<rect x="283.11" y="273.70" width="0.88" height="10.39" fill="#f6cb66"/>
<rect x="289.12" y="273.70" width="0.63" height="10.39" fill="#f6cb66"/>
<rect x="293.13" y="273.70" width="0.88" height="10.39" fill="#ee6826"/>
<rect x="294.00" y="273.70" width="1.00" height="10.39" fill="#f5932f"/>
</g>
<rect x="243.91" y="283.49" width="84.92" height="0.70" fill="#bdbdbd"/>
<g font-size="2.4" text-anchor="middle" style="fill:#9c9c9c;stroke:none">
<text x="243.91" y="286.46" style="fill:#9c9c9c;stroke:none">0</text>
<text x="253.50" y="286.46" style="fill:#9c9c9c;stroke:none">10.0</text>
<text x="263.10" y="286.46" style="fill:#9c9c9c;stroke:none">20.0</text>
<text x="272.70" y="286.46" style="fill:#9c9c9c;stroke:none">30.0</text>
<text x="282.29" y="286.46" style="fill:#9c9c9c;stroke:none">40.0</text>
<text x="291.89" y="286.46" style="fill:#9c9c9c;stroke:none">50.0</text>
<text x="301.49" y="286.46" style="fill:#9c9c9c;stroke:none">60.0</text>
<text x="311.08" y="286.46" style="fill:#9c9c9c;stroke:none">70.0</text>
<text x="320.68" y="286.46" style="fill:#9c9c9c;stroke:none">80.0</text>
</g>
<g font-size="2.4" text-anchor="end" style="fill:#9c9c9c;stroke:none">
<text x="241.96" y="283.33" style="fill:#9c9c9c;stroke:none">0</text>
<text x="241.96" y="280.40" style="fill:#9c9c9c;stroke:none">200</text>
<text x="241.96" y="277.48" style="fill:#9c9c9c;stroke:none">400</text>
<text x="241.96" y="274.56" style="fill:#9c9c9c;stroke:none">600</text>
</g>
</g>
<g id="p11">
<rect x="236.76" y="302.62" width="109.85" height="64.48" fill="#fff"/>
<rect x="244.40" y="308.83" width="0.5" height="38.85" fill="#c9d3e6"/>
<line x1="244.72" y1="309.94" x2="345.81" y2="309.94" stroke="#cfd8ea" stroke-width="0.35" stroke-dasharray="0.5 0.7"/>
<line x1="244.72" y1="316.31" x2="345.81" y2="316.31" stroke="#cfd8ea" stroke-width="0.35" stroke-dasharray="0.5 0.7"/>
<line x1="244.72" y1="322.68" x2="345.81" y2="322.68" stroke="#cfd8ea" stroke-width="0.35" stroke-dasharray="0.5 0.7"/>
<line x1="244.72" y1="329.04" x2="345.81" y2="329.04" stroke="#cfd8ea" stroke-width="0.35" stroke-dasharray="0.5 0.7"/>
<line x1="244.72" y1="335.41" x2="345.81" y2="335.41" stroke="#cfd8ea" stroke-width="0.35" stroke-dasharray="0.5 0.7"/>
<clipPath id="c11"><polygon points="244.78,336.94 250.64,332.91 258.60,333.23 260.19,335.89 261.26,340.14 268.17,340.14 268.49,335.35 270.83,338.53 271.03,340.14 278.79,339.92 279.53,336.94 283.56,320.48 286.24,328.98 287.29,333.76 288.88,335.35 292.00,332.69 295.73,327.39 298.59,317.82 299.96,319.41 301.55,323.66 303.69,332.69 306.33,334.82 311.10,332.17 312.70,332.17 314.32,323.66 315.91,321.00 317.71,309.84 319.84,316.75 321.76,323.66 322.82,326.32 327.07,327.91 328.66,327.17 329.73,328.98 330.78,335.89 331.85,343.33 332.92,340.67 333.98,339.60 335.35,344.92 336.64,342.78 337.69,333.23 339.60,329.51 340.35,335.35 341.10,334.82 343.53,327.91 345.65,322.07 345.97,321.88 345.97,347.35 244.78,347.35"/></clipPath>
<polygon points="244.78,336.94 250.64,332.91 258.60,333.23 260.19,335.89 261.26,340.14 268.17,340.14 268.49,335.35 270.83,338.53 271.03,340.14 278.79,339.92 279.53,336.94 283.56,320.48 286.24,328.98 287.29,333.76 288.88,335.35 292.00,332.69 295.73,327.39 298.59,317.82 299.96,319.41 301.55,323.66 303.69,332.69 306.33,334.82 311.10,332.17 312.70,332.17 314.32,323.66 315.91,321.00 317.71,309.84 319.84,316.75 321.76,323.66 322.82,326.32 327.07,327.91 328.66,327.17 329.73,328.98 330.78,335.89 331.85,343.33 332.92,340.67 333.98,339.60 335.35,344.92 336.64,342.78 337.69,333.23 339.60,329.51 340.35,335.35 341.10,334.82 343.53,327.91 345.65,322.07 345.97,321.88 345.97,347.35 244.78,347.35" fill="#e9e597"/>
<g clip-path="url(#c11)">
<rect x="244.78" y="308.84" width="0.73" height="39.51" fill="#f6cb66"/>
<rect x="250.85" y="308.84" width="0.64" height="39.51" fill="#f6cb66"/>
<rect x="261.05" y="308.84" width="0.73" height="39.51" fill="#f6cb66"/>
<rect x="268.17" y="308.84" width="1.59" height="39.51" fill="#c8783a"/>
<rect x="269.76" y="308.84" width="1.27" height="39.51" fill="#f5932f"/>
<rect x="278.79" y="308.84" width="1.07" height="39.51" fill="#f5ad4a"/>
<rect x="281.97" y="308.84" width="1.59" height="39.51" fill="#f5932f"/>
<rect x="283.56" y="308.84" width="1.59" height="39.51" fill="#f5ad4a"/>
<rect x="285.70" y="308.84" width="1.27" height="39.51" fill="#ee6826"/>
<rect x="294.13" y="308.84" width="1.59" height="39.51" fill="#f1dc84"/>
<rect x="295.73" y="308.84" width="1.37" height="39.51" fill="#f5932f"/>
<rect x="297.09" y="308.84" width="3.93" height="39.51" fill="#f1dc84"/>
<rect x="301.03" y="308.84" width="1.61" height="39.51" fill="#f5ad4a"/>
<rect x="311.66" y="308.84" width="1.07" height="39.51" fill="#f5ad4a"/>
<rect x="312.73" y="308.84" width="3.71" height="39.51" fill="#f6cb66"/>
<rect x="316.44" y="308.84" width="1.59" height="39.51" fill="#e5451f"/>
<rect x="318.03" y="308.84" width="1.81" height="39.51" fill="#f5932f"/>
<rect x="319.84" y="308.84" width="2.44" height="39.51" fill="#f2b47a"/>
<rect x="322.28" y="308.84" width="1.61" height="39.51" fill="#f1dc84"/>
<rect x="323.89" y="308.84" width="1.05" height="39.51" fill="#f6cb66"/>
<rect x="324.94" y="308.84" width="1.07" height="39.51" fill="#f1dc84"/>
<rect x="326.01" y="308.84" width="1.07" height="39.51" fill="#f5ad4a"/>
<rect x="327.07" y="308.84" width="1.59" height="39.51" fill="#f1dc84"/>
<rect x="328.66" y="308.84" width="1.07" height="39.51" fill="#f5ad4a"/>
<rect x="329.73" y="308.84" width="1.05" height="39.51" fill="#c89050"/>
<rect x="330.78" y="308.84" width="1.07" height="39.51" fill="#f5ad4a"/>
<rect x="332.71" y="308.84" width="1.59" height="39.51" fill="#a3501e"/>
<rect x="334.30" y="308.84" width="0.73" height="39.51" fill="#f5ad4a"/>
<rect x="335.03" y="308.84" width="1.07" height="39.51" fill="#c89050"/>
<rect x="336.64" y="308.84" width="1.91" height="39.51" fill="#a3501e"/>
<rect x="338.55" y="308.84" width="2.12" height="39.51" fill="#e5451f"/>
<rect x="340.67" y="308.84" width="1.27" height="39.51" fill="#f1dc84"/>
<rect x="341.94" y="308.84" width="1.07" height="39.51" fill="#f5ad4a"/>
<rect x="343.01" y="308.84" width="1.05" height="39.51" fill="#f6cb66"/>
<rect x="344.06" y="308.84" width="1.08" height="39.51" fill="#f5ad4a"/>
<rect x="345.14" y="308.84" width="0.99" height="39.51" fill="#f5932f"/>
</g>
<rect x="244.72" y="353.10" width="101.09" height="0.60" fill="#c9d3e6"/>
<g font-size="3.5" text-anchor="middle" style="fill:#3a3a3a;stroke:none">
<text x="243.92" y="361.35" style="fill:#3a3a3a;stroke:none">0</text>
<text x="253.28" y="361.35" style="fill:#3a3a3a;stroke:none">1k</text>
<text x="262.64" y="361.35" style="fill:#3a3a3a;stroke:none">3k</text>
<text x="272.00" y="361.35" style="fill:#3a3a3a;stroke:none">4k</text>
<text x="281.37" y="361.35" style="fill:#3a3a3a;stroke:none">6k</text>
<text x="290.73" y="361.35" style="fill:#3a3a3a;stroke:none">7k</text>
<text x="300.09" y="361.35" style="fill:#3a3a3a;stroke:none">9k</text>
<text x="309.45" y="361.35" style="fill:#3a3a3a;stroke:none">10</text>
<text x="318.81" y="361.35" style="fill:#3a3a3a;stroke:none">12</text>
<text x="328.17" y="361.35" style="fill:#3a3a3a;stroke:none">13</text>
<text x="337.53" y="361.35" style="fill:#3a3a3a;stroke:none">15</text>
</g>
<g font-size="3.5" text-anchor="end" style="fill:#3a3a3a;stroke:none">
<text x="243.15" y="347.34" style="fill:#3a3a3a;stroke:none">0</text>
<text x="243.15" y="341.24" style="fill:#3a3a3a;stroke:none">1h</text>
<text x="243.15" y="335.13" style="fill:#3a3a3a;stroke:none">2h</text>
<text x="243.15" y="329.03" style="fill:#3a3a3a;stroke:none">3h</text>
<text x="243.15" y="322.93" style="fill:#3a3a3a;stroke:none">4h</text>
<text x="243.15" y="316.83" style="fill:#3a3a3a;stroke:none">5h</text>
<text x="243.15" y="310.72" style="fill:#3a3a3a;stroke:none">6h</text>
</g>
</g>
<g id="p12">
<rect x="237.87" y="366.78" width="83.26" height="14.97" fill="#fff"/>
<clipPath id="c12"><polygon points="243.00,372.89 246.18,374.18 249.19,377.19 257.80,377.62 258.50,375.90 259.09,377.62 272.45,377.19 275.03,376.76 282.78,376.15 284.93,375.04 289.68,374.43 296.57,372.71 298.72,371.17 306.04,371.33 308.62,370.12 312.94,369.86 317.23,371.60 319.83,373.32 319.83,378.48 243.00,378.48"/></clipPath>
<polygon points="243.00,372.89 246.18,374.18 249.19,377.19 257.80,377.62 258.50,375.90 259.09,377.62 272.45,377.19 275.03,376.76 282.78,376.15 284.93,375.04 289.68,374.43 296.57,372.71 298.72,371.17 306.04,371.33 308.62,370.12 312.94,369.86 317.23,371.60 319.83,373.32 319.83,378.48 243.00,378.48" fill="#e9e597"/>
<g clip-path="url(#c12)">
<rect x="243.00" y="368.86" width="0.86" height="10.61" fill="#f5932f"/>
<rect x="243.86" y="368.86" width="2.32" height="10.61" fill="#f1dc84"/>
<rect x="246.18" y="368.86" width="2.58" height="10.61" fill="#ee6826"/>
<rect x="248.76" y="368.86" width="3.02" height="10.61" fill="#f2b47a"/>
<rect x="253.50" y="368.86" width="0.86" height="10.61" fill="#f5ad4a"/>
<rect x="256.08" y="368.86" width="0.86" height="10.61" fill="#f5932f"/>
<rect x="257.98" y="368.86" width="0.86" height="10.61" fill="#a3501e"/>
<rect x="275.03" y="368.86" width="0.86" height="10.61" fill="#f5ad4a"/>
<rect x="276.92" y="368.86" width="0.86" height="10.61" fill="#f5ad4a"/>
<rect x="283.21" y="368.86" width="1.72" height="10.61" fill="#f5932f"/>
<rect x="284.93" y="368.86" width="4.74" height="10.61" fill="#f1dc84"/>
<rect x="289.68" y="368.86" width="2.15" height="10.61" fill="#f5932f"/>
<rect x="291.82" y="368.86" width="4.31" height="10.61" fill="#f1dc84"/>
<rect x="296.14" y="368.86" width="2.15" height="10.61" fill="#f5932f"/>
<rect x="298.29" y="368.86" width="1.03" height="10.61" fill="#a3501e"/>
<rect x="306.04" y="368.86" width="1.54" height="10.61" fill="#f5ad4a"/>
<rect x="307.59" y="368.86" width="1.21" height="10.61" fill="#ee6826"/>
<rect x="308.80" y="368.86" width="4.14" height="10.61" fill="#f1dc84"/>
<rect x="312.94" y="368.86" width="1.29" height="10.61" fill="#ee6826"/>
<rect x="317.23" y="368.86" width="1.29" height="10.61" fill="#f5ad4a"/>
<rect x="318.52" y="368.86" width="1.31" height="10.61" fill="#ee6826"/>
</g>
<rect x="243.12" y="378.68" width="77.21" height="0.70" fill="#d8d8d8"/>
<g font-size="2.4" text-anchor="middle" style="fill:#9c9c9c;stroke:none">
<text x="243.12" y="382.13" style="fill:#9c9c9c;stroke:none">0</text>
<text x="252.42" y="382.13" style="fill:#9c9c9c;stroke:none">10.0</text>
<text x="261.71" y="382.13" style="fill:#9c9c9c;stroke:none">20.0</text>
<text x="271.00" y="382.13" style="fill:#9c9c9c;stroke:none">30.0</text>
<text x="280.30" y="382.13" style="fill:#9c9c9c;stroke:none">40.0</text>
<text x="289.59" y="382.13" style="fill:#9c9c9c;stroke:none">50.0</text>
<text x="298.89" y="382.13" style="fill:#9c9c9c;stroke:none">60.0</text>
<text x="308.18" y="382.13" style="fill:#9c9c9c;stroke:none">70.0</text>
<text x="317.47" y="382.13" style="fill:#9c9c9c;stroke:none">80.0</text>
</g>
<g font-size="2.4" text-anchor="end" style="fill:#9c9c9c;stroke:none">
<text x="241.38" y="378.78" style="fill:#9c9c9c;stroke:none">0</text>
<text x="241.38" y="377.03" style="fill:#9c9c9c;stroke:none">200</text>
<text x="241.38" y="375.28" style="fill:#9c9c9c;stroke:none">400</text>
<text x="241.38" y="373.53" style="fill:#9c9c9c;stroke:none">600</text>
<text x="241.38" y="371.78" style="fill:#9c9c9c;stroke:none">800</text>
<text x="241.38" y="370.03" style="fill:#9c9c9c;stroke:none">1000</text>
</g>
</g>
<g id="p13">
<rect x="237.87" y="394.64" width="85.65" height="17.03" fill="#fff"/>
<clipPath id="c13"><polygon points="243.00,404.16 246.61,405.02 247.90,406.48 253.50,406.05 255.22,405.02 267.28,403.90 272.45,401.93 281.06,400.89 289.68,399.33 294.85,397.87 298.29,399.17 306.90,403.04 313.80,405.37 315.51,406.48 321.98,406.48 321.98,406.74 243.00,406.74"/></clipPath>
<polygon points="243.00,404.16 246.61,405.02 247.90,406.48 253.50,406.05 255.22,405.02 267.28,403.90 272.45,401.93 281.06,400.89 289.68,399.33 294.85,397.87 298.29,399.17 306.90,403.04 313.80,405.37 315.51,406.48 321.98,406.48 321.98,406.74 243.00,406.74" fill="#e9e597"/>
<g clip-path="url(#c13)">
<rect x="243.00" y="396.87" width="1.46" height="10.87" fill="#f5932f"/>
<rect x="244.46" y="396.87" width="2.58" height="10.87" fill="#f5ad4a"/>
<rect x="254.36" y="396.87" width="2.15" height="10.87" fill="#f5ad4a"/>
<rect x="268.58" y="396.87" width="1.72" height="10.87" fill="#f5ad4a"/>
<rect x="270.30" y="396.87" width="2.58" height="10.87" fill="#f5932f"/>
<rect x="272.88" y="396.87" width="1.29" height="10.87" fill="#f1dc84"/>
<rect x="275.44" y="396.87" width="1.27" height="10.87" fill="#f1dc84"/>
<rect x="277.99" y="396.87" width="1.27" height="10.87" fill="#f6cb66"/>
<rect x="281.06" y="396.87" width="1.72" height="10.87" fill="#ee6826"/>
<rect x="282.78" y="396.87" width="1.72" height="10.87" fill="#f1dc84"/>
<rect x="284.50" y="396.87" width="1.74" height="10.87" fill="#f6cb66"/>
<rect x="286.24" y="396.87" width="3.44" height="10.87" fill="#f1dc84"/>
<rect x="289.68" y="396.87" width="2.15" height="10.87" fill="#f5ad4a"/>
<rect x="291.82" y="396.87" width="3.02" height="10.87" fill="#f1dc84"/>
<rect x="294.85" y="396.87" width="1.29" height="10.87" fill="#f5ad4a"/>
<rect x="296.14" y="396.87" width="2.58" height="10.87" fill="#f5932f"/>
<rect x="298.72" y="396.87" width="1.29" height="10.87" fill="#f5ad4a"/>
<rect x="300.01" y="396.87" width="1.29" height="10.87" fill="#f5932f"/>
<rect x="301.30" y="396.87" width="1.31" height="10.87" fill="#f6cb66"/>
<rect x="302.60" y="396.87" width="2.15" height="10.87" fill="#ee6826"/>
<rect x="304.75" y="396.87" width="2.15" height="10.87" fill="#f6cb66"/>
<rect x="306.90" y="396.87" width="1.29" height="10.87" fill="#f5932f"/>
<rect x="308.19" y="396.87" width="1.29" height="10.87" fill="#f6cb66"/>
<rect x="309.48" y="396.87" width="1.74" height="10.87" fill="#f5932f"/>
<rect x="311.22" y="396.87" width="2.58" height="10.87" fill="#f5ad4a"/>
</g>
<rect x="243.12" y="407.18" width="79.12" height="0.70" fill="#b5b5b5"/>
<g font-size="2.4" text-anchor="middle" style="fill:#9c9c9c;stroke:none">
<text x="243.12" y="410.31" style="fill:#9c9c9c;stroke:none">0</text>
<text x="253.81" y="410.31" style="fill:#9c9c9c;stroke:none">10.0</text>
<text x="264.50" y="410.31" style="fill:#9c9c9c;stroke:none">20.0</text>
<text x="275.19" y="410.31" style="fill:#9c9c9c;stroke:none">30.0</text>
<text x="285.88" y="410.31" style="fill:#9c9c9c;stroke:none">40.0</text>
<text x="296.57" y="410.31" style="fill:#9c9c9c;stroke:none">50.0</text>
<text x="307.26" y="410.31" style="fill:#9c9c9c;stroke:none">60.0</text>
<text x="317.95" y="410.31" style="fill:#9c9c9c;stroke:none">70.0</text>
</g>
<g font-size="2.4" text-anchor="end" style="fill:#9c9c9c;stroke:none">
<text x="241.38" y="406.65" style="fill:#9c9c9c;stroke:none">0</text>
<text x="241.38" y="405.05" style="fill:#9c9c9c;stroke:none">200</text>
<text x="241.38" y="403.46" style="fill:#9c9c9c;stroke:none">400</text>
<text x="241.38" y="401.87" style="fill:#9c9c9c;stroke:none">600</text>
<text x="241.38" y="400.28" style="fill:#9c9c9c;stroke:none">800</text>
<text x="241.38" y="398.68" style="fill:#9c9c9c;stroke:none">1000</text>
</g>
</g>
<g id="p14">
<rect x="237.87" y="411.99" width="85.65" height="14.33" fill="#fff"/>
<clipPath id="c14"><polygon points="243.00,422.24 246.61,422.24 248.33,421.56 249.17,422.24 272.45,421.13 274.17,420.27 284.93,420.27 289.68,418.98 298.29,416.22 304.32,414.23 306.90,415.37 315.51,417.69 321.98,419.41 321.98,423.29 243.00,423.29"/></clipPath>
<polygon points="243.00,422.24 246.61,422.24 248.33,421.56 249.17,422.24 272.45,421.13 274.17,420.27 284.93,420.27 289.68,418.98 298.29,416.22 304.32,414.23 306.90,415.37 315.51,417.69 321.98,419.41 321.98,423.29 243.00,423.29" fill="#e9e597"/>
<g clip-path="url(#c14)">
<rect x="246.61" y="413.23" width="2.15" height="11.06" fill="#f5ad4a"/>
<rect x="262.98" y="413.23" width="0.86" height="11.06" fill="#f1dc84"/>
<rect x="272.88" y="413.23" width="1.29" height="11.06" fill="#f5ad4a"/>
<rect x="275.20" y="413.23" width="0.68" height="11.06" fill="#f1dc84"/>
<rect x="284.93" y="413.23" width="3.02" height="11.06" fill="#f5ad4a"/>
<rect x="287.96" y="413.23" width="1.72" height="11.06" fill="#f5932f"/>
<rect x="289.68" y="413.23" width="1.53" height="11.06" fill="#f5ad4a"/>
<rect x="291.20" y="413.23" width="1.48" height="11.06" fill="#f5932f"/>
<rect x="292.68" y="413.23" width="1.74" height="11.06" fill="#ee6826"/>
<rect x="294.42" y="413.23" width="3.87" height="11.06" fill="#f5932f"/>
<rect x="298.29" y="413.23" width="1.67" height="11.06" fill="#ee6826"/>
<rect x="299.96" y="413.23" width="1.77" height="11.06" fill="#f5932f"/>
<rect x="301.73" y="413.23" width="1.74" height="11.06" fill="#ee6826"/>
<rect x="303.46" y="413.23" width="1.72" height="11.06" fill="#f5932f"/>
<rect x="305.18" y="413.23" width="1.72" height="11.06" fill="#ee6826"/>
<rect x="306.90" y="413.23" width="1.03" height="11.06" fill="#f1dc84"/>
<rect x="309.91" y="413.23" width="1.31" height="11.06" fill="#f5932f"/>
<rect x="311.22" y="413.23" width="1.72" height="11.06" fill="#f5932f"/>
<rect x="312.94" y="413.23" width="2.15" height="11.06" fill="#f5ad4a"/>
<rect x="315.08" y="413.23" width="1.29" height="11.06" fill="#ee6826"/>
<rect x="316.37" y="413.23" width="1.72" height="11.06" fill="#f5932f"/>
<rect x="318.09" y="413.23" width="1.74" height="11.06" fill="#f5ad4a"/>
<rect x="319.83" y="413.23" width="2.15" height="11.06" fill="#f5932f"/>
</g>
<rect x="243.12" y="423.90" width="79.12" height="0.70" fill="#b5b5b5"/>
<g font-size="2.4" text-anchor="middle" style="fill:#9c9c9c;stroke:none">
<text x="243.12" y="426.55" style="fill:#9c9c9c;stroke:none">0</text>
<text x="251.26" y="426.55" style="fill:#9c9c9c;stroke:none">10.0</text>
<text x="259.40" y="426.55" style="fill:#9c9c9c;stroke:none">20.0</text>
<text x="267.54" y="426.55" style="fill:#9c9c9c;stroke:none">30.0</text>
<text x="275.67" y="426.55" style="fill:#9c9c9c;stroke:none">40.0</text>
<text x="283.81" y="426.55" style="fill:#9c9c9c;stroke:none">50.0</text>
<text x="291.95" y="426.55" style="fill:#9c9c9c;stroke:none">60.0</text>
<text x="300.08" y="426.55" style="fill:#9c9c9c;stroke:none">70.0</text>
<text x="308.22" y="426.55" style="fill:#9c9c9c;stroke:none">80.0</text>
<text x="316.36" y="426.55" style="fill:#9c9c9c;stroke:none">90.0</text>
</g>
<g font-size="2.4" text-anchor="end" style="fill:#9c9c9c;stroke:none">
<text x="241.38" y="423.36" style="fill:#9c9c9c;stroke:none">0</text>
<text x="241.38" y="421.61" style="fill:#9c9c9c;stroke:none">200</text>
<text x="241.38" y="419.86" style="fill:#9c9c9c;stroke:none">400</text>
<text x="241.38" y="418.11" style="fill:#9c9c9c;stroke:none">600</text>
<text x="241.38" y="416.36" style="fill:#9c9c9c;stroke:none">800</text>
<text x="241.38" y="414.61" style="fill:#9c9c9c;stroke:none">1000</text>
</g>
</g>
<rect x="350.40" y="0" width="105.20" height="1.55" fill="#186c39"/>
<g class="h" text-anchor="middle">
<text x="19.00" y="18.32">Stage</text>
<text x="76.25" y="18.32">Difficulty</text>
<text x="141.75" y="18.32">Distance</text>
<text x="196.90" y="18.32">Climbing</text>
<text x="290.80" y="18.32">Profile</text>
<text x="403.00" y="18.32">Passes</text>
<text x="520.60" y="18.32">Destination</text>
<text x="618.00" y="18.32">Closes</text>
<text x="675.50" y="11.62">Culm</text>
<text x="675.50" y="25.02">Dist</text>
<text x="726.30" y="11.62">Culm</text>
<text x="726.30" y="25.02">Climb</text>
<text x="836.80" y="18.32">Facilities</text>
<text x="938.50" y="11.62">Daily</text>
<text x="938.50" y="25.02">Dist</text>
<text x="990.60" y="18.32">Daily Climb</text>
</g>
<g class="c" text-anchor="middle">
<text x="19.00" y="39.00">Sat:</text>
<text x="76.25" y="39.00">06:00</text>
<text x="19.00" y="63.00">1</text>
<text x="76.25" y="71.00">Difficult</text>
<text x="141.75" y="71.00">74</text>
<text x="225.00" y="63.00" text-anchor="end">2,480</text>
<text x="403.00" y="55.40">Gavia 2,621m</text>
<text x="403.00" y="70.60">Mortirolo 1,852m</text>
<text x="520.60" y="63.00">Mortirolo</text>
<text x="618.00" y="63.00">Sat 14:50</text>
<text x="675.50" y="63.00">74</text>
<text x="726.30" y="63.00">2480</text>
<text x="836.80" y="63.00">Ristoro mobile</text>
<text x="19.00" y="87.00">2</text>
<text x="76.25" y="87.00">Easy</text>
<text x="141.75" y="87.00">122</text>
<text x="225.00" y="87.00" text-anchor="end">682</text>
<text x="403.00" y="87.00">-</text>
<text x="520.60" y="87.00">Verenna</text>
<text x="618.00" y="87.00">Sun 01:00</text>
<text x="675.50" y="87.00">196</text>
<text x="726.30" y="87.00">3162</text>
<text x="836.80" y="87.00">Ristoro mobile</text>
<text x="19.00" y="102.00">3</text>
<text x="76.25" y="102.00">Medium</text>
<text x="141.75" y="102.00">68</text>
<text x="225.00" y="102.00" text-anchor="end">970</text>
<text x="403.00" y="102.00">Ghisallo 758m</text>
<text x="520.60" y="102.00">Rescaldina</text>
<text x="618.00" y="102.00">Sun 07:00</text>
<text x="675.50" y="102.00">264</text>
<text x="726.30" y="102.00">4132</text>
<text x="836.80" y="102.00">Bag drop, shower, sleep, food</text>
<text x="938.50" y="102.00">264</text>
<text x="1016.40" y="102.00" text-anchor="end">4,132</text>
<text x="19.00" y="117.00">Sun:</text>
<text x="19.00" y="131.00">4</text>
<text x="76.25" y="131.00">Easy</text>
<text x="141.75" y="131.00">85</text>
<text x="225.00" y="131.00" text-anchor="end">581</text>
<text x="403.00" y="131.00">-</text>
<text x="520.60" y="131.00">Biella</text>
<text x="618.00" y="131.00">Sun 15:00</text>
<text x="675.50" y="131.00">349</text>
<text x="726.30" y="131.00">4713</text>
<text x="836.80" y="131.00">Shower, sleep, food</text>
<text x="19.00" y="155.00">5</text>
<text x="76.25" y="163.00">Difficult</text>
<text x="141.75" y="163.00">118</text>
<text x="225.00" y="155.00" text-anchor="end">2,598</text>
<text x="403.00" y="147.40">Oropa 1,220m</text>
<text x="403.00" y="162.60">Cerasole 1,162m</text>
<text x="520.60" y="155.00">Ceresole Reale</text>
<text x="618.00" y="155.00">Mon 04:00</text>
<text x="675.50" y="155.00">467</text>
<text x="726.30" y="155.00">7311</text>
<text x="836.80" y="155.00">Shower, sleep, food</text>
<text x="938.50" y="163.00">203</text>
<text x="1016.40" y="163.00" text-anchor="end">3,179</text>
<text x="19.00" y="178.00">Mon:</text>
<text x="19.00" y="193.00">6</text>
<text x="76.25" y="193.00">Difficult</text>
<text x="141.75" y="193.00">148</text>
<text x="225.00" y="193.00" text-anchor="end">1,933</text>
<text x="403.00" y="193.00">Nivolet 2,603m</text>
<text x="520.60" y="193.00">Bruzolo</text>
<text x="618.00" y="193.00">Mon 21:00</text>
<text x="675.50" y="193.00">615</text>
<text x="726.30" y="193.00">9244</text>
<text x="836.80" y="193.00">Shower, sleep, food</text>
<text x="19.00" y="217.00">7</text>
<text x="76.25" y="225.00">Difficult</text>
<text x="141.75" y="225.00">136</text>
<text x="225.00" y="217.00" text-anchor="end">2,934</text>
<text x="403.00" y="209.40">Fenestre 2,170m</text>
<text x="403.00" y="224.60">Sestriere 2,038m</text>
<text x="520.60" y="217.00">Chiuso di San Michele</text>
<text x="618.00" y="217.00">Tue 10:00</text>
<text x="675.50" y="217.00">751</text>
<text x="726.30" y="217.00">12178</text>
<text x="836.80" y="217.00">Shower, sleep, food</text>
<text x="938.50" y="225.00">284</text>
<text x="1016.40" y="225.00" text-anchor="end">4,867</text>
<text x="19.00" y="240.00">Tue:</text>
<text x="19.00" y="255.00">8</text>
<text x="76.25" y="255.00">Easy</text>
<text x="141.75" y="255.00">94</text>
<text x="225.00" y="255.00" text-anchor="end">455</text>
<text x="403.00" y="255.00">Santa Croce 359m</text>
<text x="520.60" y="255.00">Viverone</text>
<text x="618.00" y="255.00">Tue 19:00</text>
<text x="675.50" y="255.00">845</text>
<text x="726.30" y="255.00">12633</text>
<text x="836.80" y="255.00">Shower, sleep, food</text>
<text x="19.00" y="270.00">9</text>
<text x="76.25" y="270.00">Easy</text>
<text x="141.75" y="270.00">90</text>
<text x="225.00" y="270.00" text-anchor="end">590</text>
<text x="403.00" y="270.00">-</text>
<text x="520.60" y="270.00">Rescaldina 2</text>
<text x="618.00" y="270.00">Wed 03:00</text>
<text x="675.50" y="270.00">935</text>
<text x="726.30" y="270.00">13223</text>
<text x="836.80" y="270.00">Bag drop, shower, sleep, food</text>
<text x="19.00" y="285.00">10</text>
<text x="76.25" y="285.00">Easy</text>
<text x="141.75" y="285.00">89</text>
<text x="225.00" y="285.00" text-anchor="end">560</text>
<text x="403.00" y="285.00">-</text>
<text x="520.60" y="285.00">Trescore Balneario</text>
<text x="618.00" y="285.00">Wed 13:00</text>
<text x="675.50" y="285.00">1024</text>
<text x="726.30" y="285.00">13783</text>
<text x="836.80" y="285.00">Shower, sleep, food</text>
<text x="938.50" y="285.00">273</text>
<text x="1016.40" y="285.00" text-anchor="end">1,605</text>
<text x="19.00" y="301.00">Wed:</text>
<text x="19.00" y="339.00">11</text>
<text x="76.25" y="364.00">Difficult</text>
<text x="141.75" y="364.00">165</text>
<text x="225.00" y="339.00" text-anchor="end">2,960</text>
<text x="403.00" y="317.00">Tre Termini 679m</text>
<text x="403.00" y="332.00">Lodrino 657m</text>
<text x="403.00" y="347.00">Preone 692m San</text>
<text x="403.00" y="362.00">Rocco 946m</text>
<text x="520.60" y="339.00">Vesio di Tremosine</text>
<text x="618.00" y="339.00">Thu 05:00</text>
<text x="675.50" y="339.00">1189</text>
<text x="726.30" y="339.00">16743</text>
<text x="836.80" y="339.00">Shower, sleep, food</text>
<text x="19.00" y="379.00">12</text>
<text x="76.25" y="379.00">Medium</text>
<text x="141.75" y="379.00">83</text>
<text x="225.00" y="379.00" text-anchor="end">1,908</text>
<text x="403.00" y="379.00">Andalo 1,04m</text>
<text x="520.60" y="379.00">Spormaggiore</text>
<text x="618.00" y="379.00">Thu 13:00</text>
<text x="675.50" y="379.00">1272</text>
<text x="726.30" y="379.00">18651</text>
<text x="836.80" y="379.00">Shower, sleep, food</text>
<text x="938.50" y="379.00">248</text>
<text x="1016.40" y="379.00" text-anchor="end">4,868</text>
<text x="19.00" y="393.00">Thu:</text>
<text x="19.00" y="409.00">13</text>
<text x="76.25" y="409.00">Medium</text>
<text x="141.75" y="409.00">74</text>
<text x="225.00" y="409.00" text-anchor="end">1,395</text>
<text x="403.00" y="409.00">Opalade 1,518m</text>
<text x="520.60" y="409.00">Merano</text>
<text x="618.00" y="409.00">Thu 21:00</text>
<text x="675.50" y="409.00">1346</text>
<text x="726.30" y="409.00">20046</text>
<text x="836.80" y="409.00">Food</text>
<text x="19.00" y="424.00">14</text>
<text x="76.25" y="424.00">Difficult</text>
<text x="141.75" y="424.00">97</text>
<text x="225.00" y="424.00" text-anchor="end">2,569</text>
<text x="403.00" y="424.00">Stelvio 2,758m</text>
<text x="520.60" y="424.00">Bormio</text>
<text x="618.00" y="424.00">Fri 12:00</text>
<text x="675.50" y="424.00">1443</text>
<text x="726.30" y="424.00">22615</text>
<text x="836.80" y="424.00">Finish</text>
<text x="938.50" y="424.00">171</text>
<text x="1016.40" y="424.00" text-anchor="end">3,964</text>
<text x="19.00" y="439.00">Fri:</text>
<text x="76.25" y="439.00">12:00</text>
<text x="117.50" y="439.00" text-anchor="start">(150 hrs, 6d 6h)</text>
<text x="938.50" y="439.00">1443</text>
<text x="1016.40" y="439.00" text-anchor="end">22,615</text>
</g>
<rect x="0" y="441.20" width="1022" height="11.00" fill="#fafafa"/>
<rect x="0" y="440.7" width="1022" height="1.1" fill="#ebebeb"/>
<rect x="0" y="441.8" width="646" height="10.2" fill="#f2f2f2"/>
<rect x="0" y="451" width="1022" height="1" fill="#eeeeee"/>
<rect x="-10" y="443.9" width="654.5" height="6.5" rx="3.25" fill="#b9b9b9"/>
</svg></body></html>
